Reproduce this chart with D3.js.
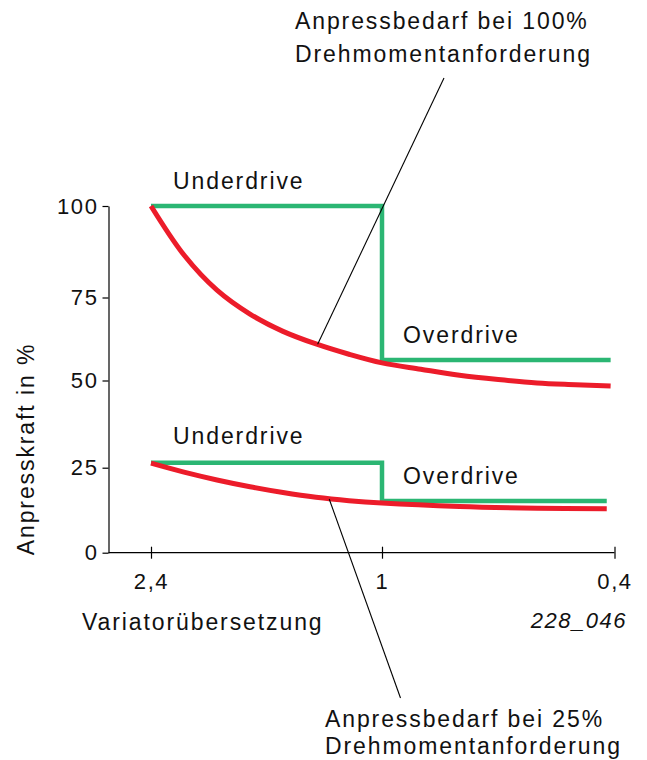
<!DOCTYPE html>
<html>
<head>
<meta charset="utf-8">
<script src="https://cdn.jsdelivr.net/npm/d3@7/dist/d3.min.js"></script>
<style>
  html, body { margin: 0; padding: 0; background: #fff; }
  svg { display: block; }
  text { font-family: "Liberation Sans", Arial, Helvetica, sans-serif; fill: #111; }
</style>
</head>
<body>
<svg id="chart" width="647" height="760"></svg>
<script>
// Variator ratio ticks (x) and clamping-force ticks (y, in %)
const ratioTicks = [2.4, 1, 0.4];
const ratioTickLabels = ["2,4", "1", "0,4"];
const forceTicks = [0, 25, 50, 75, 100];

// Required clamping force at 100 % torque demand (red, upper)
const need100Ratio = [2.4, 2.2, 2.0, 1.8, 1.6, 1.4, 1.2, 1.0, 0.9, 0.8, 0.7, 0.6, 0.5, 0.41];
const need100Value = [100, 86.6, 77.0, 70.0, 64.8, 61.0, 57.9, 55.3, 53.4, 51.6, 50.3, 49.3, 48.8, 48.4];

// Required clamping force at 25 % torque demand (red, lower)
const need25Ratio = [2.4, 2.2, 2.0, 1.8, 1.6, 1.4, 1.2, 1.0, 0.8, 0.6, 0.42];
const need25Value = [26.3, 23.7, 21.4, 19.4, 17.7, 16.3, 15.3, 14.6, 13.6, 13.1, 12.9];

// Applied clamping force, stepped between underdrive and overdrive (green)
const supply100Ratio = [2.4, 1, 0.41];
const supply100Value = [100, 56.2, 56.2];
const supply25Ratio = [2.4, 1, 0.42];
const supply25Value = [26.4, 15.2, 15.2];

const svg = d3.select("#chart");

const x = d3.scaleLinear().domain([2.4, 1, 0.4]).range([151, 382, 614.5]);
const y = d3.scaleLinear().domain(forceTicks).range([552.7, 467.7, 380.5, 297.5, 206]);

const RED = "#ec1c2a";
const GREEN = "#2bb673";
const TICK_FONT = 22;

// Axes
const yAxis = svg.append("g")
  .attr("transform", "translate(108.5,0)")
  .call(d3.axisLeft(y).tickValues(forceTicks).tickSizeInner(6).tickSizeOuter(0).tickPadding(4));
yAxis.select(".domain").attr("stroke", "#000").attr("stroke-width", 1.2);
yAxis.selectAll(".tick line").attr("stroke", "#000").attr("stroke-width", 1.2);
yAxis.selectAll(".tick text")
  .attr("font-size", TICK_FONT).attr("letter-spacing", "1.6px")
  .attr("font-family", "Liberation Sans, Arial, sans-serif").attr("fill", "#111");

const xAxis = svg.append("g")
  .attr("transform", `translate(0,${y(0)})`)
  .call(d3.axisBottom(x).tickValues(ratioTicks)
    .tickFormat((d, i) => ratioTickLabels[i])
    .tickSizeInner(6).tickSizeOuter(0).tickPadding(15));
xAxis.select(".domain").remove();
xAxis.append("line")
  .attr("x1", 108.5).attr("x2", x(0.4)).attr("y1", 0).attr("y2", 0)
  .attr("stroke", "#000").attr("stroke-width", 1.2);
xAxis.selectAll(".tick line").attr("y1", -6).attr("y2", 6)
  .attr("stroke", "#000").attr("stroke-width", 1.2);
xAxis.selectAll(".tick text")
  .attr("font-size", TICK_FONT).attr("letter-spacing", "1.6px")
  .attr("font-family", "Liberation Sans, Arial, sans-serif").attr("fill", "#111");

// Curves
const smooth = d3.line().x(d => x(d[0])).y(d => y(d[1])).curve(d3.curveCatmullRom.alpha(0.5));
const step = d3.line().x(d => x(d[0])).y(d => y(d[1])).curve(d3.curveStepAfter);

const zip = (a, b) => a.map((v, i) => [v, b[i]]);

svg.append("path").datum(zip(supply100Ratio, supply100Value))
  .attr("d", step).attr("fill", "none").attr("stroke", GREEN).attr("stroke-width", 4.5);
svg.append("path").datum(zip(supply25Ratio, supply25Value))
  .attr("d", step).attr("fill", "none").attr("stroke", GREEN).attr("stroke-width", 4.5);

svg.append("path").datum(zip(need100Ratio, need100Value))
  .attr("d", smooth).attr("fill", "none").attr("stroke", RED).attr("stroke-width", 5);
svg.append("path").datum(zip(need25Ratio, need25Value))
  .attr("d", smooth).attr("fill", "none").attr("stroke", RED).attr("stroke-width", 5);

// Leader lines from the callouts to the red curves
svg.append("line")
  .attr("x1", x(1.39)).attr("y1", y(60.9)).attr("x2", 444).attr("y2", 78)
  .attr("stroke", "#000").attr("stroke-width", 1.1);
svg.append("line")
  .attr("x1", x(1.32)).attr("y1", y(15.8)).attr("x2", 400.5).attr("y2", 698)
  .attr("stroke", "#000").attr("stroke-width", 1.1);

// Text
function label(txt, tx, ty, opts = {}) {
  const t = svg.append("text")
    .attr("x", tx).attr("y", ty)
    .attr("font-size", opts.size || 23)
    .attr("letter-spacing", opts.ls || "1.9px")
    .text(txt);
  if (opts.anchor) t.attr("text-anchor", opts.anchor);
  if (opts.italic) t.attr("font-style", "italic");
  if (opts.transform) t.attr("transform", opts.transform);
  return t;
}

label("Anpressbedarf bei 100%", 295, 28.5);
label("Drehmomentanforderung", 295, 61.5);
label("Anpressbedarf bei 25%", 325, 727);
label("Drehmomentanforderung", 325, 754);

label("Underdrive", 173, 188.5);
label("Overdrive", 403, 342.5);
label("Underdrive", 173, 444);
label("Overdrive", 403, 483.5);

label("Variatorübersetzung", 82, 630);
label("228_046", 627, 627.5, { size: 22, ls: "1.5px", anchor: "end", italic: true });

label("Anpresskraft in %", 0, 0, { anchor: "middle", transform: "translate(33.5,449) rotate(-90)" });
</script>
</body>
</html>
